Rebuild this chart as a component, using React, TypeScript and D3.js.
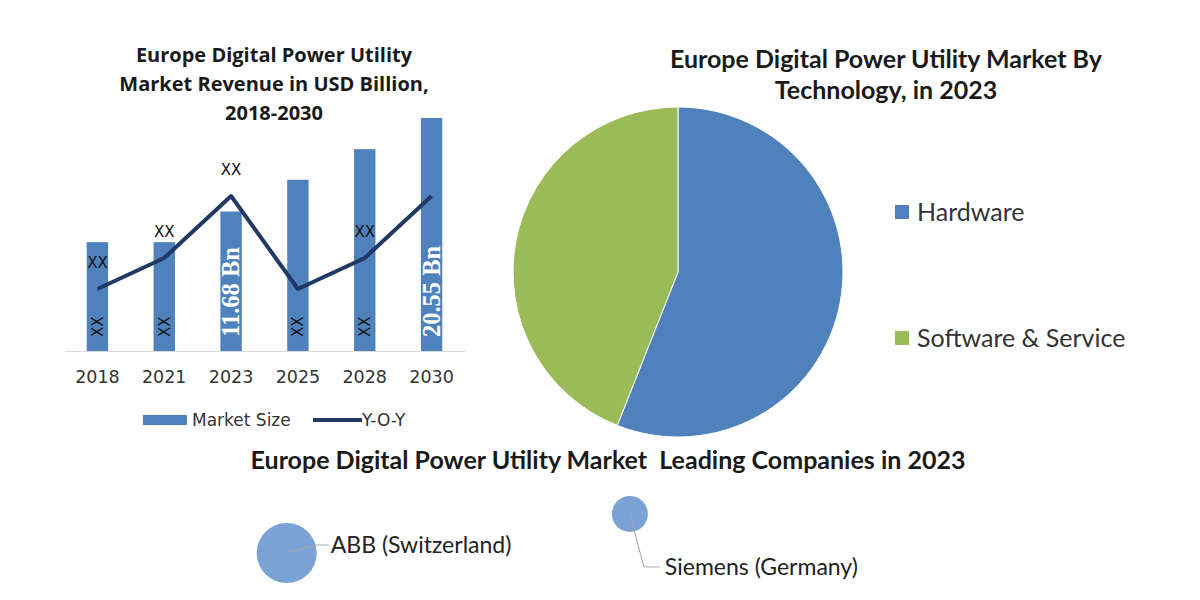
import * as d3 from 'd3';

// bar + line chart data
const years = ['2018', '2021', '2023', '2025', '2028', '2030'];
const marketSize = [9.6, 9.6, 12.3, 15.1, 17.8, 20.55];
const barLabels = ['XX', 'XX', '11.68 Bn', 'XX', 'XX', '20.55 Bn'];
const yoy = [3, 4, 6, 3, 4, 6];
const yoyLabels = ['XX', 'XX', 'XX', '', 'XX', ''];

// pie data
const techNames = ['Hardware', 'Software & Service'];
const techShare = [56, 44];
const techColors = ['#4f81bd', '#9bbb59'];

// bubble data
const companies = ['ABB (Switzerland)', 'Siemens (Germany)'];
const companyX = [1, 5.1];
const companyY = [1, 2.1];
const companySize = [30, 18];

const W = 1200;
const H = 600;

const sans = '"DejaVu Sans", Verdana, sans-serif';
const bold = '"Open Sans", sans-serif';
const calib = 'Lato, sans-serif';

export default function App() {
  // bar chart scales
  const x = d3.scaleBand().domain(years).range([64, 465]).paddingInner(0.68).paddingOuter(0.34);
  const y = d3.scaleLinear().domain([0, 20.55]).range([351, 118]);
  const yLine = d3.scaleLinear().domain([0, 10]).range([382, 72]);
  const cx = (d: string) => (x(d) as number) + x.bandwidth() / 2;

  const line = d3.line<number>()
    .x((_, i) => cx(years[i]))
    .y(d => yLine(d));

  // pie
  const pie = d3.pie<number>().sort(null).value(d => d);
  const arc = d3.arc<d3.PieArcDatum<number>>().innerRadius(0).outerRadius(165);
  const arcs = pie(techShare);

  // bubbles
  const bx = d3.scaleLinear().domain([0, 10]).range([203, 1040]);
  const by = d3.scaleLinear().domain([0, 3]).range([588.5, 482]);

  return (
    <svg width={W} height={H} style={{ position: 'absolute', left: 0, top: 0, background: '#fff' }}>
      {/* bar chart title */}
      <g fontFamily={bold} fontWeight={700} fontSize={20} fill="#1a1a1a" textAnchor="middle">
        <text x={274} y={62}>Europe Digital Power Utility</text>
        <text x={274} y={91}>Market Revenue in USD Billion,</text>
        <text x={274} y={120}>2018-2030</text>
      </g>

      {/* bars */}
      {marketSize.map((v, i) => (
        <rect key={years[i]} x={x(years[i])} y={y(v)} width={x.bandwidth()} height={y(0) - y(v)} fill="#4f81bd" />
      ))}
      {/* baseline */}
      <line x1={65} x2={465} y1={351.5} y2={351.5} stroke="#d9d9d9" strokeWidth={1} />

      {/* bar labels, rotated */}
      {barLabels.map((t, i) => {
        const big = t !== 'XX';
        const px = cx(years[i]);
        return (
          <text
            key={'bl' + i}
            transform={`translate(${px},337) rotate(-90)`}
            dy={big ? '0.34em' : '0.36em'}
            fontFamily={big ? '"Liberation Serif", serif' : sans}
            fontWeight={big ? 700 : 400}
            fontSize={big ? 24.5 : 15}
            fill={big ? '#ffffff' : '#111'}
          >
            {t}
          </text>
        );
      })}

      {/* yoy line */}
      <path d={line(yoy) || ''} fill="none" stroke="#1f3864" strokeWidth={4} strokeLinejoin="round" />
      {yoy.map((v, i) =>
        yoyLabels[i] ? (
          <text key={'yl' + i} x={cx(years[i])} y={yLine(v) - 21} textAnchor="middle" fontFamily={sans} fontSize={15} fill="#111">
            {yoyLabels[i]}
          </text>
        ) : null
      )}

      {/* x ticks */}
      {years.map(yr => (
        <text key={'t' + yr} x={cx(yr)} y={383} textAnchor="middle" fontFamily={sans} fontSize={17.5} fill="#333">
          {yr}
        </text>
      ))}

      {/* bar legend */}
      <rect x={143} y={415} width={44} height={10} fill="#4f81bd" />
      <text x={192} y={426} fontFamily={sans} fontSize={17} fill="#333">Market Size</text>
      <line x1={313} x2={362} y1={420} y2={420} stroke="#1f3864" strokeWidth={4} />
      <text x={362} y={426} fontFamily={sans} fontSize={17} fill="#333">Y-O-Y</text>

      {/* pie title */}
      <g fontFamily={calib} fontWeight={700} fontSize={25} fill="#1a1a1a" textAnchor="middle">
        <text x={886} y={68}>Europe Digital Power Utility Market By</text>
        <text x={886} y={99}>Technology, in 2023</text>
      </g>
      <g transform="translate(678,272)">
        {arcs.map((a, i) => (
          <path key={'p' + i} d={arc(a) || ''} fill={techColors[i]} stroke="#fff" strokeWidth={1} />
        ))}
      </g>
      {techNames.map((n, i) => (
        <g key={'lg' + n} transform={`translate(895,${205 + i * 126})`}>
          <rect width={14} height={14} fill={techColors[i]} />
          <text x={22} y={7} dy="0.35em" fontFamily={calib} fontSize={25} fill="#333">{n}</text>
        </g>
      ))}

      {/* companies */}
      <text x={608} y={469} textAnchor="middle" fontFamily={calib} fontWeight={700} fontSize={25} fill="#1a1a1a">
        {'Europe Digital Power Utility Market\u00a0 Leading Companies in 2023'}
      </text>
      {companies.map((c, i) => {
        const px = bx(companyX[i]);
        const py = by(companyY[i]);
        const r = companySize[i];
        const leader = i === 0
          ? `M${px},${py}L${px + r},${py - 8}L${px + r + 12},${py - 8}`
          : `M${px},${py}L${px + 14},${py + 53}L${px + 30},${py + 53}`;
        const tx = i === 0 ? px + r + 14 : px + 35;
        const ty = i === 0 ? py - 8 : py + 53;
        return (
          <g key={c}>
            <circle cx={px} cy={py} r={r} fill="#7aa2d4" />
            <path d={leader} fill="none" stroke="#a6a6a6" strokeWidth={1} />
            <text x={tx} y={ty} dy="0.35em" fontFamily={calib} fontSize={23} fill="#222">{c}</text>
          </g>
        );
      })}
    </svg>
  );
}
